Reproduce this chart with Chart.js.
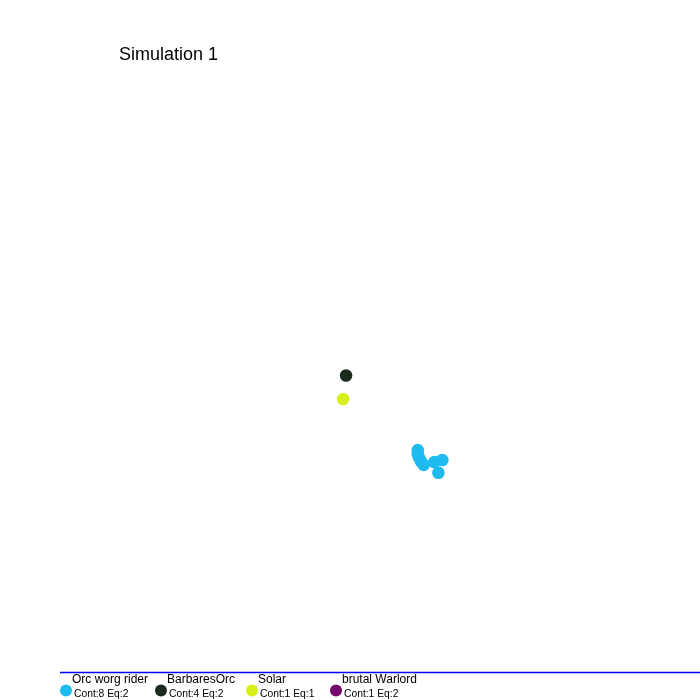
<!DOCTYPE html>
<html>
<head>
<meta charset="utf-8">
<script src="https://cdn.jsdelivr.net/npm/chart.js@4/dist/chart.umd.min.js"></script>
<style>
html,body{margin:0;padding:0;background:#fff;}
#wrap{width:700px;height:700px;}
</style>
</head>
<body>
<div id="wrap"><canvas id="c" width="700" height="700"></canvas></div>
<script>
const titleText = "Simulation 1";
const seriesNames = ["Orc worg rider", "BarbaresOrc", "Solar", "brutal Warlord"];
const seriesInfo = ["Cont:8 Eq:2", "Cont:4 Eq:2", "Cont:1 Eq:1", "Cont:1 Eq:2"];
const seriesColors = ["#1EBBF0", "#1A2B1E", "#D8F01A", "#760A6C"];
const orcWorgX = [419, 419, 420, 422, 425, 436, 444, 440];
const orcWorgY = [452, 456, 459, 463, 467, 464, 462, 475];
const barbaresX = [346];
const barbaresY = [376];
const solarX = [343];
const solarY = [400];
const warlordX = [];
const warlordY = [];

const xs = [orcWorgX, barbaresX, solarX, warlordX];
const ys = [orcWorgY, barbaresY, solarY, warlordY];

const datasets = seriesNames.map((n, i) => ({
  label: n,
  data: xs[i].map((x, j) => ({x: x, y: ys[i][j]})),
  backgroundColor: seriesColors[i],
  borderColor: seriesColors[i],
  borderWidth: 0,
  pointRadius: 6.3,
  pointHoverRadius: 6.3
}));

const overlay = {
  id: 'overlay',
  afterDraw(chart) {
    const ctx = chart.ctx;
    ctx.save();
    ctx.fillStyle = '#000';
    ctx.font = '18px "Liberation Sans", Arial, sans-serif';
    ctx.textAlign = 'left';
    ctx.textBaseline = 'alphabetic';
    ctx.fillText(titleText, 119, 60);
    ctx.strokeStyle = '#0000FF';
    ctx.lineWidth = 1.5;
    ctx.beginPath();
    ctx.moveTo(60, 672.5);
    ctx.lineTo(700, 672.5);
    ctx.stroke();
    const legendX = [66, 161, 252, 336];
    seriesNames.forEach((n, i) => {
      const cx = legendX[i];
      ctx.fillStyle = seriesColors[i];
      ctx.beginPath();
      ctx.arc(cx, 690.5, 6, 0, Math.PI * 2);
      ctx.fill();
      ctx.fillStyle = '#000';
      ctx.font = '12px "Liberation Sans", Arial, sans-serif';
      ctx.fillText(n, cx + 6, 683);
      ctx.font = '10.3px "Liberation Sans", Arial, sans-serif';
      ctx.fillText(seriesInfo[i], cx + 8, 697);
    });
    ctx.restore();
  }
};

new Chart(document.getElementById('c'), {
  type: 'scatter',
  data: { datasets },
  options: {
    responsive: false,
    animation: false,
    layout: { padding: 0 },
    plugins: { legend: { display: false }, tooltip: { enabled: false }, title: { display: false } },
    scales: {
      x: { type: 'linear', min: 0, max: 700, display: false },
      y: { type: 'linear', min: 0, max: 700, reverse: true, display: false }
    }
  },
  plugins: [overlay]
});
</script>
</body>
</html>
